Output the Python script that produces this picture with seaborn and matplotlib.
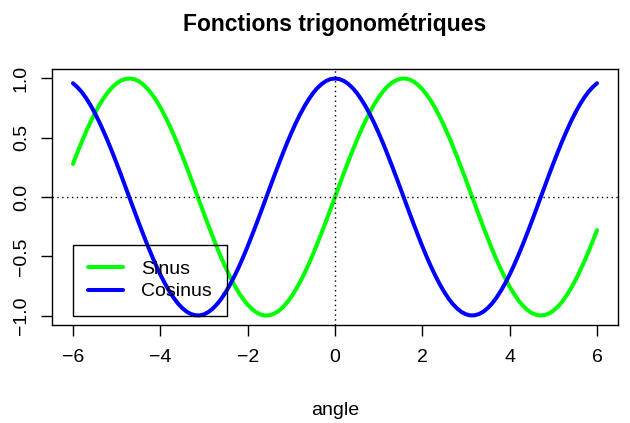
import numpy as np
import pandas as pd
import matplotlib
matplotlib.use("Agg")
import matplotlib.pyplot as plt
import seaborn as sns

# valeurs, angle de -6 à 6 par pas de 0.1
angle = np.linspace(-6, 6, 121)
sinus = [0.279, 0.374, 0.465, 0.551, 0.631, 0.706, 0.773, 0.832, 0.884, 0.926, 0.959,
         0.983, 0.996, 1.000, 0.994, 0.978, 0.952, 0.916, 0.872, 0.818, 0.757,
         0.688, 0.612, 0.530, 0.443, 0.351, 0.256, 0.158, 0.058, -0.042, -0.141,
         -0.239, -0.335, -0.427, -0.516, -0.598, -0.676, -0.746, -0.809, -0.863, -0.909,
         -0.946, -0.974, -0.992, -1.000, -0.998, -0.985, -0.964, -0.932, -0.891, -0.841,
         -0.783, -0.717, -0.644, -0.565, -0.479, -0.389, -0.296, -0.199, -0.100, 0.000,
         0.100, 0.199, 0.296, 0.389, 0.479, 0.565, 0.644, 0.717, 0.783, 0.841,
         0.891, 0.932, 0.964, 0.985, 0.998, 1.000, 0.992, 0.974, 0.946, 0.909,
         0.863, 0.809, 0.746, 0.676, 0.598, 0.516, 0.427, 0.335, 0.239, 0.141,
         0.042, -0.058, -0.158, -0.256, -0.351, -0.443, -0.530, -0.612, -0.688, -0.757,
         -0.818, -0.872, -0.916, -0.952, -0.978, -0.994, -1.000, -0.996, -0.983, -0.959,
         -0.926, -0.884, -0.832, -0.773, -0.706, -0.631, -0.551, -0.465, -0.374, -0.279]
cosinus = [0.960, 0.927, 0.886, 0.835, 0.776, 0.709, 0.635, 0.554, 0.469, 0.378, 0.284,
           0.187, 0.087, -0.012, -0.112, -0.211, -0.307, -0.401, -0.490, -0.575, -0.654,
           -0.726, -0.791, -0.848, -0.897, -0.936, -0.967, -0.987, -0.998, -0.999, -0.990,
           -0.971, -0.942, -0.904, -0.857, -0.801, -0.737, -0.666, -0.589, -0.505, -0.416,
           -0.323, -0.227, -0.129, -0.029, 0.071, 0.170, 0.267, 0.362, 0.454, 0.540,
           0.622, 0.697, 0.765, 0.825, 0.878, 0.921, 0.955, 0.980, 0.995, 1.000,
           0.995, 0.980, 0.955, 0.921, 0.878, 0.825, 0.765, 0.697, 0.622, 0.540,
           0.454, 0.362, 0.267, 0.170, 0.071, -0.029, -0.129, -0.227, -0.323, -0.416,
           -0.505, -0.589, -0.666, -0.737, -0.801, -0.857, -0.904, -0.942, -0.971, -0.990,
           -0.999, -0.998, -0.987, -0.967, -0.936, -0.897, -0.848, -0.791, -0.726, -0.654,
           -0.575, -0.490, -0.401, -0.307, -0.211, -0.112, -0.012, 0.087, 0.187, 0.284,
           0.378, 0.469, 0.554, 0.635, 0.709, 0.776, 0.835, 0.886, 0.927, 0.960]
series_names = ["Sinus", "Cosinus"]
series_colors = ["#00FF00", "#0000FF"]
x_ticks = [-6, -4, -2, 0, 2, 4, 6]
y_ticks = [-1.0, -0.5, 0.0, 0.5, 1.0]

df = pd.DataFrame({
    "angle": list(angle) * 2,
    "valeur": sinus + cosinus,
    "fonction": ["Sinus"] * len(sinus) + ["Cosinus"] * len(cosinus),
})

sns.set_style("white")
plt.rcParams["font.family"] = ["Liberation Sans", "DejaVu Sans"]
plt.rcParams["text.color"] = "black"

fig = plt.figure(figsize=(6.3, 4.23), dpi=100)
ax = fig.add_axes([52 / 630, 1 - 325 / 423, 566 / 630, 256 / 423])

sns.lineplot(data=df, x="angle", y="valeur", hue="fonction",
             palette=dict(zip(series_names, series_colors)),
             hue_order=series_names, lw=2.9, sort=False, ax=ax)

# lignes pointillées (abline h=0, v=0)
ax.axhline(0, color="black", lw=1, dashes=(1, 2.5))
ax.axvline(0, color="black", lw=1, dashes=(1, 2.5))

ax.set_xlim(-6.48, 6.48)
ax.set_ylim(-1.08, 1.08)
ax.set_xticks(x_ticks)
ax.set_xticklabels([str(t).replace("-", "\u2212") for t in x_ticks])
ax.set_yticks(y_ticks)
ax.set_yticklabels([f"{t:.1f}".replace("-", "\u2212") for t in y_ticks])
for lab in ax.get_yticklabels():
    lab.set_rotation(90)
    lab.set_va("center")

ax.tick_params(axis="both", direction="out", length=8, width=1, color="black",
               labelsize=14, labelcolor="black", bottom=True, left=True)
ax.tick_params(axis="x", pad=9)
ax.tick_params(axis="y", pad=8)
for sp in ax.spines.values():
    sp.set_color("black")
    sp.set_linewidth(1)

ax.set_xlabel("angle", fontsize=14, labelpad=26, color="black")
ax.set_ylabel("")
ax.set_title("Fonctions trigonométriques", fontsize=16.5, fontweight="bold",
             pad=27, color="black")

# légende sans fond, comme dans R (les courbes restent visibles)
handles, labels = ax.get_legend_handles_labels()
leg = ax.legend(handles, labels, loc="lower left", bbox_to_anchor=(0.037, 0.035),
                borderaxespad=0, fontsize=14, frameon=True, fancybox=False,
                handlelength=1.8, handletextpad=0.9, borderpad=0.8, labelspacing=0.25)
leg.get_frame().set_edgecolor("black")
leg.get_frame().set_facecolor("none")
leg.get_frame().set_alpha(None)
leg.get_frame().set_linewidth(1)
for h in leg.get_lines():
    h.set_linewidth(2.9)

fig.savefig("out.png", dpi=100)
